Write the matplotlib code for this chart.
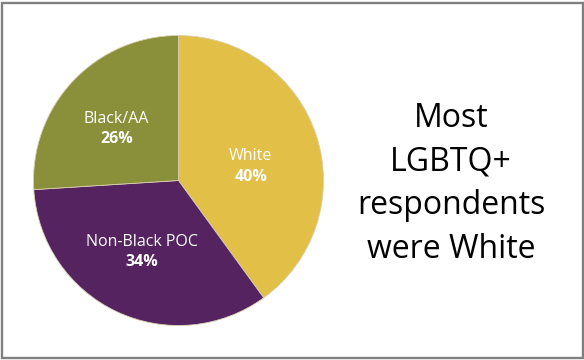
import matplotlib.pyplot as plt
from matplotlib.patches import Rectangle

groups = ['White', 'Non-Black POC', 'Black/AA']
shares = [40, 34, 26]
colors = ['#E2BF47', '#55235F', '#8A8F3A']
headline = ['Most', 'LGBTQ+', 'respondents', 'were White']

plt.rcParams['font.family'] = ['Open Sans', 'DejaVu Sans']

W, H = 584, 360
fig = plt.figure(figsize=(W / 100, H / 100), dpi=100)
fig.patch.set_facecolor('white')

# pie sits on the left, 145 px radius around (178.5, 180.5)
cx, cy, r = 178.5, 180.5, 145
ax = fig.add_axes([(cx - r) / W, (H - cy - r) / H, 2 * r / W, 2 * r / H])
wedges, _ = ax.pie(shares, colors=colors, startangle=90, counterclock=False,
                   radius=1, wedgeprops=dict(linewidth=0.6, edgecolor='#d8d0b0'))
ax.set_xlim(-1, 1)
ax.set_ylim(-1, 1)
ax.set_aspect('auto')
ax.axis('off')

label_pos = [(0.498, 0.097), (-0.255, -0.493), (-0.428, 0.355)]
for name, val, (x, y) in zip(groups, shares, label_pos):
    ax.text(x, y + 0.072, name, color='white', fontsize=11.5,
            ha='center', va='center')
    ax.text(x, y - 0.072, f'{val}%', color='white', fontsize=11.5,
            fontweight='bold', ha='center', va='center')

# headline, one baseline per line
for i, line in enumerate(headline):
    base = 127 + i * 43.7
    fig.text(451 / W, 1 - base / H, line, fontsize=23, ha='center',
             va='baseline', color='black')

# grey frame round the whole graphic
fig.add_artist(Rectangle((2.3 / W, 2.5 / H), (582.5 - 2.3) / W, (357.5 - 2.5) / H,
                         transform=fig.transFigure, fill=False,
                         edgecolor='#808080', linewidth=1.7))

fig.savefig('out.png', dpi=100)
